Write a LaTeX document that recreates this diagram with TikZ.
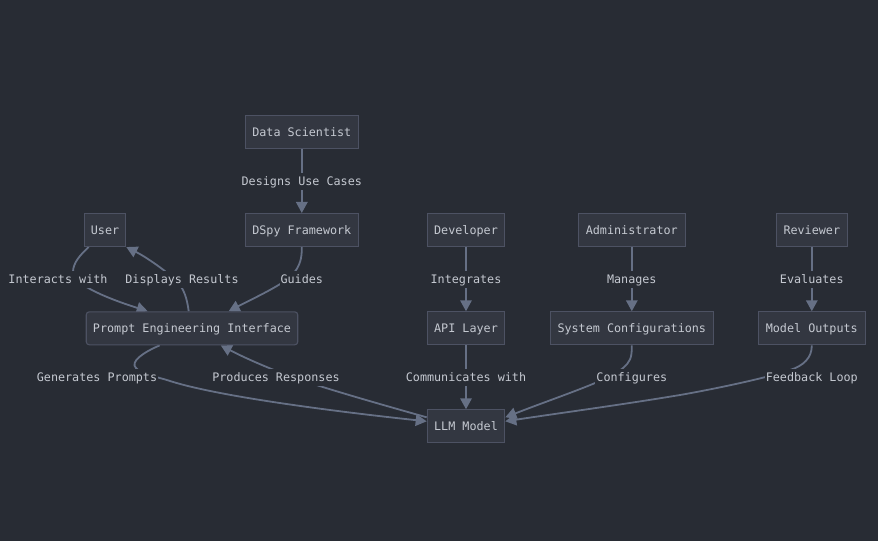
\documentclass[tikz,border=0pt]{standalone}
\usepackage{fontspec}
\setmonofont{DejaVu Sans Mono}
\usetikzlibrary{arrows.meta,calc,backgrounds}
\definecolor{bgc}{HTML}{282C34}
\definecolor{boxf}{HTML}{333741}
\definecolor{boxd}{HTML}{4D5263}
\definecolor{linec}{HTML}{667085}
\definecolor{txtc}{HTML}{C5C9D1}
\tikzset{
  every node/.style={font=\ttfamily\fontsize{11.75pt}{14pt}\selectfont,text=txtc,text height=10pt,text depth=2pt},
  boxn/.style={draw=boxd,fill=boxf,line width=1.1pt,minimum height=33pt,inner sep=0pt,anchor=center},
  lbl/.style={fill=bgc,inner xsep=1pt,inner ysep=1pt,minimum height=17pt,anchor=center},
  conn/.style={draw=linec,line width=1.8pt,-{Triangle[length=11pt,width=11.5pt]}}
}
\begin{document}
\begin{tikzpicture}[x=1pt,y=-1pt]
\useasboundingbox (0,0) rectangle (878,541);
% boxes
\node[boxn,minimum width=112.5pt] (ds) at (301.8,132) {Data Scientist};
\node[boxn,minimum width=112.5pt] (dspy) at (301.8,230) {DSpy Framework};
\node[boxn,minimum width=41.5pt] (user) at (105,230) {User};
\node[boxn,minimum width=77.5pt] (dev) at (466,230) {Developer};
\node[boxn,minimum width=106.5pt] (adm) at (631.8,230) {Administrator};
\node[boxn,minimum width=70.5pt] (rev) at (811.8,230) {Reviewer};
\node[boxn,rounded corners=3pt,minimum width=211.5pt] (pei) at (192,328.3) {Prompt Engineering Interface};
\node[boxn,minimum width=77.5pt] (api) at (466,328.3) {API Layer};
\node[boxn,minimum width=162.5pt] (cfg) at (631.8,328.3) {System Configurations};
\node[boxn,minimum width=106.5pt] (out) at (811.8,328.3) {Model Outputs};
\node[boxn,minimum width=77.5pt] (llm) at (466,426.3) {LLM Model};
% labels
\node[lbl] (l1) at (301.8,181) {Designs Use Cases};
\node[lbl] (l2) at (58,279) {Interacts with};
\node[lbl] (l3) at (182,279) {Displays Results};
\node[lbl] (l4) at (301.8,279) {Guides};
\node[lbl] (l5) at (466,279) {Integrates};
\node[lbl] (l6) at (631.8,279) {Manages};
\node[lbl] (l7) at (811.8,279) {Evaluates};
\node[lbl] (l8) at (97,377) {Generates Prompts};
\node[lbl] (l9) at (276,377) {Produces Responses};
\node[lbl] (l10) at (466,377) {Communicates with};
\node[lbl] (l11) at (631.8,377) {Configures};
\node[lbl] (l12) at (811.8,377) {Feedback Loop};
\begin{pgfonlayer}{background}
\fill[bgc] (0,0) rectangle (878,541);
\draw[conn] (ds) -- (dspy);
\draw[conn] ($(user.south west)+(5,0)$) .. controls (80,255) and (73,263) .. (73,272)
  .. controls (73,283) and (100,296) .. ($(pei.north west)+(62,0)$);
\draw[conn] ($(pei.north west)+(103,0)$) .. controls (187,298) and (184,290) .. (179,284)
  .. controls (174,277) and (150,259) .. (user.south east);
\draw[conn] (dspy.south) .. controls (302,258) and (300,266) .. (293,274)
  .. controls (285,284) and (250,300) .. ($(pei.north west)+(143,0)$);
\draw[conn] (dev) -- (api);
\draw[conn] (adm) -- (cfg);
\draw[conn] (rev) -- (out);
\draw[conn] ($(pei.south west)+(74,0)$) .. controls (142,353) and (130,362) .. (136,368)
  .. controls (142,375) and (155,376) .. (170,381)
  .. controls (220,397) and (340,412) .. ($(llm.west)+(0,-5)$);
\draw[conn] ($(llm.west)+(0,-9)$) .. controls (390,407) and (330,390) .. (295,378)
  .. controls (270,369) and (245,358) .. ($(pei.south west)+(135,0)$);
\draw[conn] (api) -- (llm);
\draw[conn] (cfg.south) .. controls (632,358) and (630,362) .. (623,368)
  .. controls (610,380) and (560,396) .. ($(llm.east)+(0,-9)$);
\draw[conn] (out.south) .. controls (812,358) and (803,366) .. (790,370)
  .. controls (770,377) and (720,388) .. (680,395)
  .. controls (620,405) and (560,413) .. ($(llm.east)+(0,-5)$);
\end{pgfonlayer}
\end{tikzpicture}
\end{document}
